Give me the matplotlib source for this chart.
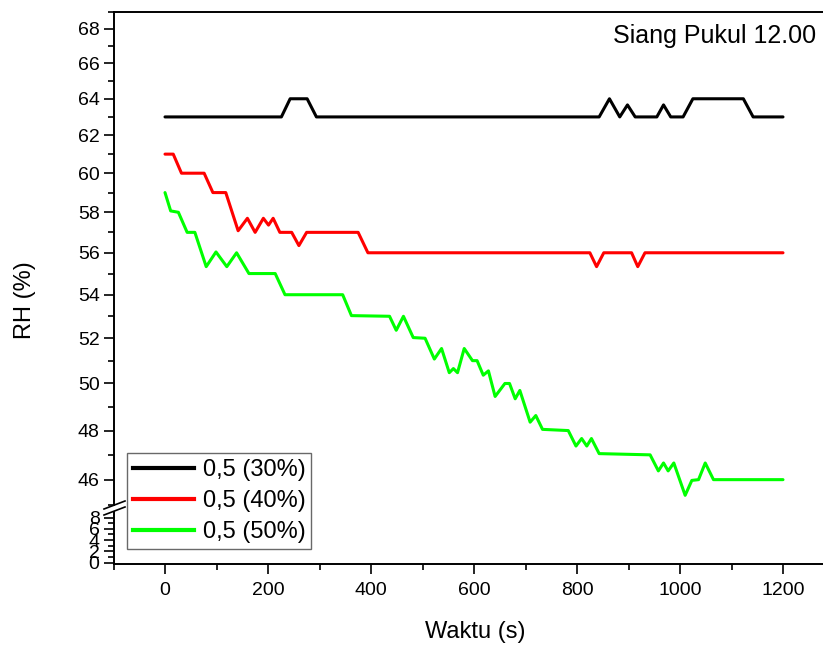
import matplotlib
matplotlib.use('Agg')
import matplotlib.pyplot as plt
from matplotlib.ticker import FixedLocator, FuncFormatter, NullFormatter
from matplotlib.lines import Line2D

plt.rcParams['font.family'] = ['Liberation Sans', 'DejaVu Sans']

# RH readings (%) against time (s)
t_30 = [0, 226, 243, 276, 294, 843, 863, 883, 898, 913, 955, 968, 982, 1006, 1025, 1123, 1142, 1200]
rh_30 = [63, 63, 64, 64, 63, 63, 64, 63, 63.66, 63, 63, 63.66, 63, 63, 64, 64, 63, 63]

t_40 = [0, 16, 32, 76, 93, 118, 142, 160, 175, 191, 201, 210, 223, 246, 260, 275, 375, 394,
        825, 838, 852, 906, 918, 932, 1200]
rh_40 = [61, 61, 60, 60, 59, 59, 57.08, 57.7, 57.0, 57.7, 57.36, 57.7, 57.0, 57.0, 56.35, 57, 57, 56,
         56, 55.33, 56, 56, 55.33, 56, 56]

t_50 = [0, 11, 26, 43, 58, 80, 99, 120, 139, 163, 214, 233, 345, 362, 436, 449, 463, 482, 505,
        523, 537, 552, 560, 568, 581, 597, 606, 618, 628, 641, 660, 669, 680, 689, 709, 720, 733,
        783, 798, 809, 819, 828, 843, 942, 958, 968, 977, 988, 1010, 1023, 1036, 1049, 1065, 1200]
rh_50 = [59, 58.07, 58, 57, 57, 55.33, 56.04, 55.33, 56, 55, 55, 54, 54, 53.03, 53, 52.36, 53, 52.03, 52,
         51.07, 51.54, 50.47, 50.65, 50.47, 51.54, 51.0, 51.0, 50.36, 50.55, 49.44, 50.0, 50.0, 49.34, 49.7, 48.35, 48.63, 48.05,
         48, 47.36, 47.67, 47.36, 47.67, 47.05, 47, 46.35, 46.67, 46.35, 46.67, 45.38, 45.97, 46.0, 46.67, 46, 46]

labels = ['0,5 (30%)', '0,5 (40%)', '0,5 (50%)']
colors = ['black', '#ff0000', '#00ff00']

W, H = 823, 648
fig = plt.figure(figsize=(W / 100, H / 100), dpi=100)


def px(x0, y0, x1, y1):
    # pixel box (top-left origin) -> figure fraction rect
    return [x0 / W, 1 - y1 / H, (x1 - x0) / W, (y1 - y0) / H]


ax = fig.add_axes(px(113.5, 12, 834.5, 505))
ax_lo = fig.add_axes(px(113.5, 512, 834.5, 564))

for t, rh, c in zip([t_30, t_40, t_50], [rh_30, rh_40, rh_50], colors):
    ax.plot(t, rh, color=c, lw=2.2, solid_joinstyle='round', solid_capstyle='round')

ax.set_yscale('log')
ax.set_ylim(45, 69)
ax.set_xlim(-100, 1300)
ax.yaxis.set_major_locator(FixedLocator(list(range(46, 69, 2))))
ax.yaxis.set_minor_locator(FixedLocator(list(range(45, 70, 2))))
ax.yaxis.set_major_formatter(FuncFormatter(lambda v, p: '%d' % round(v)))
ax.yaxis.set_minor_formatter(NullFormatter())
ax.set_xticks([])
ax.spines['bottom'].set_visible(False)
ax.tick_params(axis='y', which='major', direction='out', length=7, width=1.2, labelsize=14, pad=3)
ax.tick_params(axis='y', which='minor', direction='out', length=4, width=1.2)

ax_lo.set_xlim(-100, 1300)
ax_lo.set_ylim(-0.25, 9)
ax_lo.set_yticks([0, 2, 4, 6, 8])
ax_lo.set_yticks(list(range(0, 9)), minor=True)
ax_lo.set_xticks(list(range(0, 1201, 200)))
ax_lo.set_xticks(list(range(-100, 1301, 200)), minor=True)
ax_lo.spines['top'].set_visible(False)
ax_lo.tick_params(which='major', direction='out', length=7, width=1.2, labelsize=14, pad=3)
ax_lo.tick_params(which='minor', direction='out', length=4, width=1.2)
ax_lo.tick_params(axis='x', pad=6)

for a in (ax, ax_lo):
    for s in a.spines.values():
        s.set_linewidth(1.4)

# break marks on the y axis
for dy in (0, 6):
    fig.add_artist(Line2D([104 / W, 125 / W], [1 - (509 + dy) / H, 1 - (501 + dy) / H],
                          color='black', lw=1.2))

handles = [Line2D([], [], color=c, lw=3) for c in colors]
leg = fig.legend(handles, labels, loc='upper left', bbox_to_anchor=(127 / W, 1 - 453 / H),
                 borderaxespad=0, fontsize=17, frameon=True, fancybox=False,
                 handlelength=2.6, handletextpad=0.35, labelspacing=0.38, borderpad=0.25)
leg.get_frame().set_edgecolor('#444444')
leg.get_frame().set_linewidth(1.0)

fig.text(613 / W, 1 - 43 / H, 'Siang Pukul 12.00', fontsize=18, va='baseline', ha='left')
fig.text(25 / W, 1 - 300 / H, 'RH (%)', fontsize=17, rotation=90, va='center', ha='center')
fig.text(475 / W, 1 - 632 / H, 'Waktu (s)', fontsize=17, va='center', ha='center')

fig.savefig('out.png', dpi=100)
